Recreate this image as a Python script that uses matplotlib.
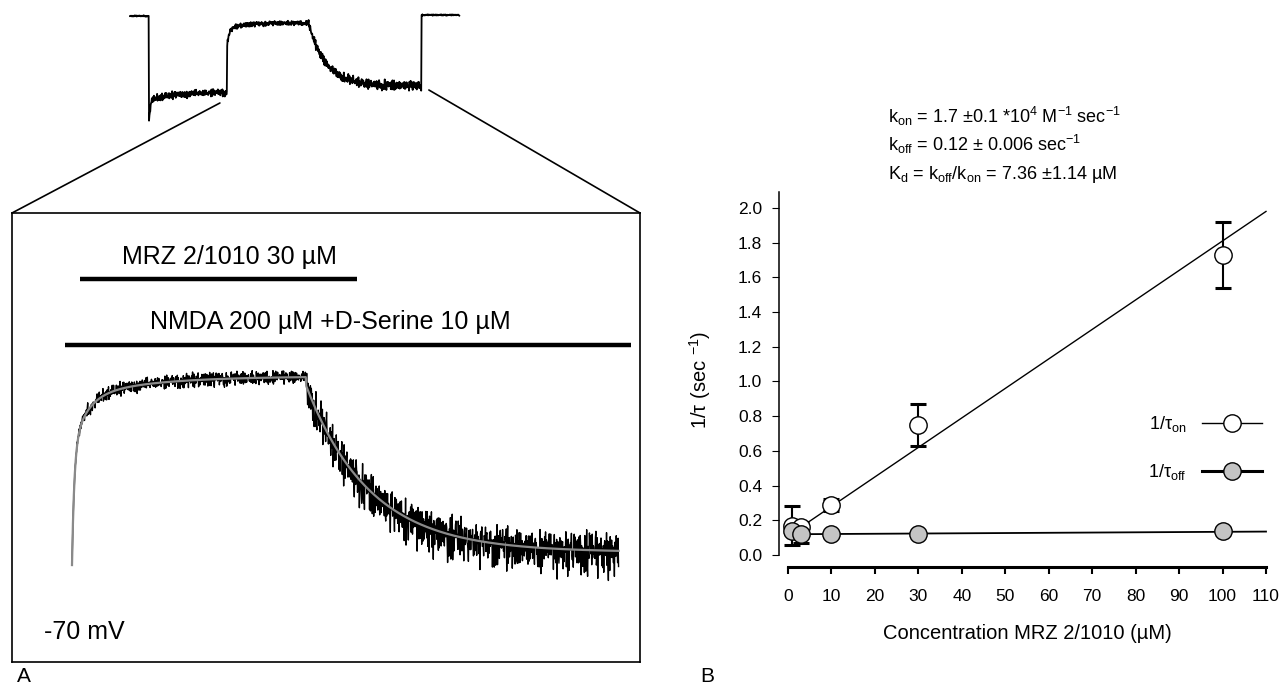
import numpy as np
import matplotlib
matplotlib.use('Agg')
import matplotlib.pyplot as plt
from matplotlib.lines import Line2D
from matplotlib.patches import ConnectionPatch

plt.rcParams['font.family'] = ['Liberation Sans', 'DejaVu Sans']
plt.rcParams['mathtext.fontset'] = 'custom'
plt.rcParams['mathtext.rm'] = 'Liberation Sans'
plt.rcParams['mathtext.it'] = 'Liberation Sans:italic'
plt.rcParams['mathtext.bf'] = 'Liberation Sans:bold'

# ---------------- Panel B data ----------------
conc = [1, 3, 10, 30, 100]
rate_on = [0.17, 0.16, 0.29, 0.75, 1.73]
err_on = [0.11, 0.03, 0.035, 0.12, 0.19]
rate_off = [0.14, 0.12, 0.12, 0.12, 0.14]
err_off = [0.02, 0.05, 0.015, 0.01, 0.015]
k_on_fit = 0.017          # µM^-1 s^-1
k_off_fit = 0.11          # intercept, s^-1
off_line = [0.12, 0.135]  # off-rate line at fit_range ends
fit_range = [3, 110]
x_ticks = list(range(0, 111, 10))
y_ticks = [0.0, 0.2, 0.4, 0.6, 0.8, 1.0, 1.2, 1.4, 1.6, 1.8, 2.0]

# ---------------- Panel A parameters ----------------
# top overview trace (s, nA)
top_events = [7.0, 36.0, 66.0, 108.0, 122.0]   # NMDA on, MRZ on, MRZ off, NMDA off, end
top_levels = [0.0, -1.07, -0.76, -0.07, -0.70]  # baseline, peak, steady, blocked, recovered
# zoomed trace (s, normalised block)
inset_events = [0.0, 30.4, 71.0]
rise_amps = [0.62, 0.28, 0.12]
rise_taus = [0.3, 1.8, 9.0]
decay_tau = 8.3
decay_floor = 0.07
mrz_bar = [1.0, 37.0]
nmda_bar = [-0.9, 72.6]

noise_pattern = [0.31, -0.72, 0.15, 0.88, -0.27, -0.95, 0.42, 0.06, -0.51, 0.67,
                 -0.13, 0.79, -0.64, 0.24, -0.38, 0.93, -0.82, 0.11, 0.55, -0.46,
                 0.02, -0.71, 0.36, 0.84, -0.19, -0.58, 0.47, -0.91, 0.73, 0.18,
                 -0.33, 0.61, -0.77, 0.09, 0.97, -0.42, -0.12, 0.52, -0.68, 0.29,
                 -0.87, 0.44, 0.71, -0.23, -0.49, 0.13, 0.82, -0.61, 0.38, -0.05,
                 -0.94, 0.57, 0.21, -0.36, 0.69, -0.74, 0.04, 0.48, -0.29, 0.91,
                 -0.55, -0.17, 0.63, -0.83, 0.26, 0.12, -0.66, 0.78, -0.41, 0.34,
                 -0.08, 0.86, -0.59, -0.21, 0.45, -0.97, 0.17, 0.58, -0.35, 0.74,
                 -0.52, 0.08, 0.39, -0.79, 0.66, -0.14, -0.45, 0.92, -0.63, 0.22,
                 0.53, -0.31, -0.86, 0.41, 0.14, -0.57, 0.76, -0.24, 0.33, -0.69, 0.59]


def noise(n):
    p = np.array(noise_pattern)
    i = np.arange(n)
    return 0.6 * p[i % len(p)] + 0.4 * p[(i * 13 + 5) % 97]


W, H = 1282, 685


def px_rect(l, t, r, b):
    return [l / W, 1 - b / H, (r - l) / W, (b - t) / H]


fig = plt.figure(figsize=(W / 100, H / 100), dpi=100)

# ---------------- top overview trace ----------------
ax_top = fig.add_axes(px_rect(125, 8, 465, 130))
ax_top.set_axis_off()
ax_top.set_xlim(-5 / 2.7, 335 / 2.7)
ax_top.set_ylim(-1.14, 0.08)

t_on, t_mrz, t_wash, t_off, t_end = top_events
b0, peak, steady, blocked, recov = top_levels
tt = np.arange(0, t_end, 0.15)
yy = np.zeros_like(tt)
amp = np.full_like(tt, 0.008)
m = (tt >= t_on) & (tt < t_mrz)
d = tt[m] - t_on
yy[m] = steady - 0.08 * np.exp(-d / 10) + (peak - steady + 0.08) * np.exp(-d / 0.5)
amp[m] = 0.05
m = (tt >= t_mrz) & (tt < t_wash)
d = tt[m] - t_mrz
yy[m] = blocked - 0.15 * np.exp(-d / 0.8) - 0.06 * np.exp(-d / 6)
amp[m] = 0.03
m = (tt >= t_wash) & (tt < t_off)
d = tt[m] - t_wash
yy[m] = recov + (blocked - recov) * np.exp(-d / 6.5)
amp[m] = 0.065
m = tt >= t_off
yy[m] = 0.01
yy = yy + amp * noise(len(tt))
ax_top.plot(tt, yy, color='black', lw=1.3)

# ---------------- zoomed inset ----------------
ax_in = fig.add_axes(px_rect(12, 213, 640, 662))
ax_in.set_xlim(-60 / 7.7, 568 / 7.7)
ax_in.set_ylim(-0.524, 1.903)
ax_in.set_xticks([])
ax_in.set_yticks([])
for s in ax_in.spines.values():
    s.set_linewidth(1.2)

ti = np.arange(inset_events[0], inset_events[2], 0.06)
fit = np.zeros_like(ti)
namp = np.zeros_like(ti)
r = ti < inset_events[1]
for a, tau in zip(rise_amps, rise_taus):
    fit[r] += a * (1 - np.exp(-ti[r] / tau))
namp[r] = 0.05 * (1 - np.exp(-ti[r] / 0.8))
dcy = ~r
fit[dcy] = decay_floor + (0.97 - decay_floor) * np.exp(-(ti[dcy] - inset_events[1]) / decay_tau)
namp[dcy] = 0.12
nz = noise(len(ti))
nz = np.where((nz < 0) & dcy, nz * 1.5, nz)
raw = fit + namp * nz
ax_in.plot(ti, raw, color='black', lw=1.0)
ax_in.plot(ti, fit, color='#8a8a8a', lw=1.6)

ax_in.plot(mrz_bar, [1.546, 1.546], color='black', lw=3.2, solid_capstyle='butt')
ax_in.plot(nmda_bar, [1.189, 1.189], color='black', lw=3.2, solid_capstyle='butt')
ax_in.text(np.mean(mrz_bar) + 1.5, 1.665, 'MRZ 2/1010 30 µM', fontsize=18,
           ha='center', va='center')
ax_in.text(33.5, 1.314, 'NMDA 200 µM +D-Serine 10 µM', fontsize=18,
           ha='center', va='center')
ax_in.text(1.56, -0.362, '-70 mV', fontsize=18, ha='center', va='center')

# connector lines from the overview trace to the inset box
con1 = ConnectionPatch(xyA=(0, 1), coordsA=ax_in.transAxes,
                       xyB=(33.3, -0.87), coordsB=ax_top.transData,
                       color='black', lw=1.2)
con2 = ConnectionPatch(xyA=(1, 1), coordsA=ax_in.transAxes,
                       xyB=(110.7, -0.74), coordsB=ax_top.transData,
                       color='black', lw=1.2)
fig.add_artist(con1)
fig.add_artist(con2)

# ---------------- Panel B ----------------
ax = fig.add_axes(px_rect(779, 192, 1268, 555))
ax.set_xlim(-9 / 4.345, 110.46)
ax.set_ylim(0, 2.092)

xf = np.array(fit_range, dtype=float)
ax.plot(xf, k_off_fit + k_on_fit * xf, color='black', lw=1.0, zorder=2)
ax.plot(xf, off_line, color='black', lw=1.3, zorder=2)

ax.errorbar(conc, rate_on, yerr=err_on, fmt='none', ecolor='black',
            elinewidth=1.5, capsize=6, capthick=2.2, zorder=3)
ax.errorbar(conc, rate_off, yerr=err_off, fmt='none', ecolor='black',
            elinewidth=1.5, capsize=6, capthick=2.2, zorder=3)
ax.plot(conc, rate_on, 'o', ms=12.5, mfc='white', mec='black', mew=1.0,
        zorder=4, clip_on=False)
ax.plot(conc, rate_off, 'o', ms=12.5, mfc='#c4c4c4', mec='black', mew=1.0,
        zorder=5, clip_on=False)

for side in ['top', 'right']:
    ax.spines[side].set_visible(False)
ax.spines['left'].set_linewidth(1.1)
ax.spines['bottom'].set_linewidth(2.2)
ax.spines['bottom'].set_position(('outward', 8.6))
ax.spines['bottom'].set_bounds(0, 110)

ax.set_xticks(x_ticks)
ax.set_xticklabels([str(v) for v in x_ticks])
ax.set_yticks(y_ticks)
ax.set_yticklabels([f'{v:.1f}' for v in y_ticks])
ax.tick_params(axis='x', direction='out', length=5, width=1.5, pad=11,
               labelsize=12.5)
ax.tick_params(axis='y', direction='out', length=5, width=0.8, pad=7,
               labelsize=12.5)

ax.set_xlabel('Concentration MRZ 2/1010 (µM)', fontsize=14.5)
ax.xaxis.set_label_coords(0.507, -0.19)
ax.set_ylabel(r'1/τ (sec $^{-1}$)', fontsize=14.5)
ax.yaxis.set_label_coords(-0.135, 0.482)

handles = [Line2D([], [], color='black', lw=1.0, marker='o', ms=12.5,
                  mfc='white', mec='black'),
           Line2D([], [], color='black', lw=2.2, marker='o', ms=12.5,
                  mfc='#c4c4c4', mec='black')]
labels = [r'1/τ$_{\rm on}$', r'1/τ$_{\rm off}$']
ax.legend(handles, labels, markerfirst=False, frameon=False, loc='center right',
          bbox_to_anchor=(1262 / W, 1 - 448 / H), bbox_transform=fig.transFigure,
          fontsize=13, handlelength=3.3, handletextpad=0.9, labelspacing=1.55,
          borderpad=0, borderaxespad=0)

fig.text(888 / W, 1 - 123 / H,
         r'k$_{\rm on}$ = 1.7 ±0.1 *10$^{4}$ M$^{-1}$ sec$^{-1}$',
         fontsize=13, ha='left', va='baseline')
fig.text(888 / W, 1 - 151 / H,
         r'k$_{\rm off}$ = 0.12 ± 0.006 sec$^{-1}$',
         fontsize=13, ha='left', va='baseline')
fig.text(888 / W, 1 - 179 / H,
         r'K$_{\rm d}$ = k$_{\rm off}$/k$_{\rm on}$ = 7.36 ±1.14 µM',
         fontsize=13, ha='left', va='baseline')

fig.text(24 / W, 1 - 677 / H, 'A', fontsize=15, ha='center', va='center')
fig.text(707 / W, 1 - 677 / H, 'B', fontsize=15, ha='center', va='center')

fig.savefig('out.png', dpi=100, facecolor='white')
